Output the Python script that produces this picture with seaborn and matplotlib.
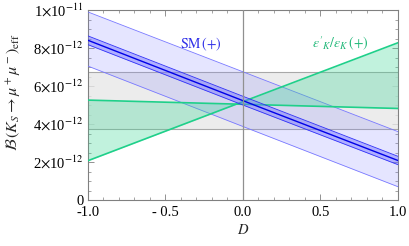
import numpy as np
import pandas as pd
import seaborn as sns
import matplotlib.pyplot as plt
from matplotlib.ticker import MultipleLocator, FuncFormatter

sns.set_theme(style="ticks")
plt.rcParams['font.family'] = ['Liberation Serif', 'DejaVu Serif']
plt.rcParams['mathtext.fontset'] = 'stix'

# values at D = -1, 0, 1 (units of 1e-12)
D = [-1.0, 0.0, 1.0]
sm_wide_hi = [9.9, 6.75, 3.6]
sm_wide_lo = [7.05, 3.87, 0.7]
sm_narrow_hi = [8.64, 5.46, 2.30]
sm_narrow_lo = [8.18, 5.0, 1.86]
sm_central = [8.41, 5.23, 2.08]
eps_rising = [2.07, 5.18, 8.28]
eps_flat = [5.26, 5.04, 4.82]
exp_lo = 3.72
exp_hi = 6.75

df = pd.DataFrame({
    "D": D,
    "sm_wide_hi": np.array(sm_wide_hi) * 1e-12,
    "sm_wide_lo": np.array(sm_wide_lo) * 1e-12,
    "sm_narrow_hi": np.array(sm_narrow_hi) * 1e-12,
    "sm_narrow_lo": np.array(sm_narrow_lo) * 1e-12,
    "sm_central": np.array(sm_central) * 1e-12,
    "eps_rising": np.array(eps_rising) * 1e-12,
    "eps_flat": np.array(eps_flat) * 1e-12,
})

blue = "#3030f8"
green = "#1fd08a"

fig = plt.figure(figsize=(4.1, 2.46), dpi=100)
ax = fig.add_axes([0.2146, 0.187, 0.756, 0.772])

# experimental band
ax.axhspan(exp_lo * 1e-12, exp_hi * 1e-12, color="#e8e8e8", alpha=0.8, lw=0, zorder=1)
ax.axhline(exp_lo * 1e-12, color="#a8a8a8", lw=0.8, zorder=2)
ax.axhline(exp_hi * 1e-12, color="#a8a8a8", lw=0.8, zorder=2)

# SM wide band
ax.fill_between(df["D"], df["sm_wide_lo"], df["sm_wide_hi"], color="#8080ff", alpha=0.2, lw=0, zorder=3)
sns.lineplot(data=df, x="D", y="sm_wide_hi", color="#7878ff", lw=0.6, ax=ax, zorder=4)
sns.lineplot(data=df, x="D", y="sm_wide_lo", color="#7878ff", lw=0.6, ax=ax, zorder=4)

# eps'/eps band
ax.fill_between(df["D"], df["eps_rising"], df["eps_flat"], color="#40d898", alpha=0.32, lw=0, zorder=5)
sns.lineplot(data=df, x="D", y="eps_rising", color=green, lw=1.2, ax=ax, zorder=6)
sns.lineplot(data=df, x="D", y="eps_flat", color=green, lw=1.2, ax=ax, zorder=6)

# SM narrow band
ax.fill_between(df["D"], df["sm_narrow_lo"], df["sm_narrow_hi"], color="#7070ff", alpha=0.45, lw=0, zorder=7)
sns.lineplot(data=df, x="D", y="sm_narrow_hi", color=blue, lw=0.6, ax=ax, zorder=8)
sns.lineplot(data=df, x="D", y="sm_narrow_lo", color=blue, lw=0.6, ax=ax, zorder=8)
sns.lineplot(data=df, x="D", y="sm_central", color="#0000e8", lw=1.0, ax=ax, zorder=9)

ax.axvline(0, color="#909090", lw=0.9, zorder=10)

ax.set_xlim(-1, 1)
ax.set_ylim(0, 1e-11)
ax.xaxis.set_major_locator(MultipleLocator(0.5))
ax.xaxis.set_minor_locator(MultipleLocator(0.1))
ax.yaxis.set_major_locator(MultipleLocator(2e-12))
ax.yaxis.set_minor_locator(MultipleLocator(0.5e-12))


def yfmt(v, pos):
    if abs(v) < 1e-20:
        return "0"
    if v >= 0.99e-11:
        return r"1$\times$10$^{-11}$"
    return r"%d$\times$10$^{-12}$" % round(v / 1e-12)


def xfmt(v, pos):
    if -0.99 < v < -0.01:
        return "- %.1f" % abs(v)
    return "%.1f" % v


ax.yaxis.set_major_formatter(FuncFormatter(yfmt))
ax.xaxis.set_major_formatter(FuncFormatter(xfmt))
ax.tick_params(which="both", direction="in", top=True, right=True, colors="#808080",
               labelcolor="black", labelsize=10.5)
ax.tick_params(axis="x", pad=4)
ax.tick_params(axis="y", pad=3)
ax.tick_params(which="major", length=4, width=0.6)
ax.tick_params(which="minor", length=2, width=0.5)
for s in ax.spines.values():
    s.set_color("#808080")
    s.set_linewidth(0.8)

ax.set_xlabel(r"$D$", fontsize=10.5, labelpad=3)
ax.set_ylabel(r"$\mathcal{B}\,(K_S\rightarrow\mu^+\mu^-)_{\rm eff}$", fontsize=11.5, labelpad=2)
ax.yaxis.set_label_coords(-0.21, 0.57)

ax.text(-0.27, 8.0e-12, r"${\rm SM}\,(+)$", color="#3030e8", fontsize=10, ha="center")
ax.text(0.63, 8.0e-12, r"$\epsilon'_K/\epsilon_K\,(+)$", color="#20b878", fontsize=10, ha="center")

fig.savefig("out.png", dpi=100)
